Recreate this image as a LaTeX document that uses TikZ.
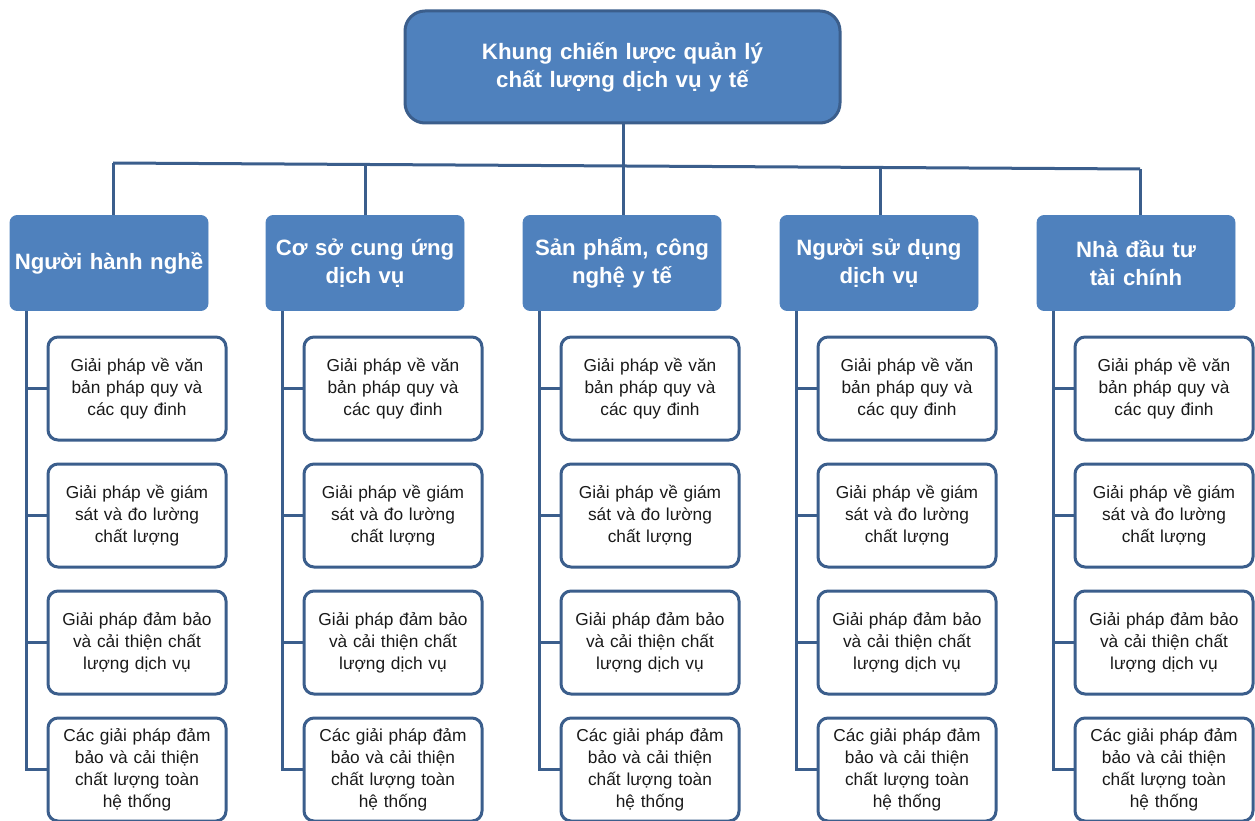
\documentclass[tikz,border=0pt]{standalone}
\usepackage{fontspec}
\setmainfont{Liberation Sans}
\definecolor{boxblue}{HTML}{4F81BD}
\definecolor{lineblue}{HTML}{3B5E8C}
\definecolor{txt}{HTML}{1A1A1A}
\tikzset{
  topbox/.style={draw=lineblue, line width=3pt, fill=boxblue, rounded corners=20pt,
    minimum width=435pt, minimum height=112pt, text width=420pt, align=center,
    text=white, font=\fontsize{22.3}{28}\selectfont\bfseries, inner sep=0pt},
  catbox/.style={draw=boxblue, line width=0.8pt, fill=boxblue, rounded corners=7pt,
    minimum width=198pt, minimum height=95pt, text width=196pt, align=center,
    text=white, font=\fontsize{22.2}{28}\selectfont\bfseries, inner sep=0pt},
  itembox/.style={draw=lineblue, line width=3pt, fill=white, rounded corners=10pt,
    minimum width=178pt, minimum height=103pt, text width=172pt, align=center,
    text=txt, font=\fontsize{17.3}{22}\selectfont, inner sep=0pt},
  conn/.style={draw=lineblue, line width=3pt},
}
\begin{document}
\begin{tikzpicture}[x=1pt,y=-1pt]
\useasboundingbox (0,0) rectangle (1255,821);
\node[topbox] (top) at (622.5,67) {Khung chiến lược quản lý\\chất lượng dịch vụ y tế};
% bus
\coordinate (bL) at (113,163);
\coordinate (bR) at (1140,169);
\coordinate (b1) at (113,163);
\coordinate (b2) at (365,164.47);
\coordinate (b3) at (623,165.98);
\coordinate (b4) at (880,167.48);
\coordinate (b5) at (1140,169);
\draw[conn] (bL) -- (bR);
\draw[conn] (top.south -| b3) -- (b3);
% categories
\foreach \i/\lx/\txt in {1/10/{Người hành nghề}, 2/266/{Cơ sở cung ứng\\dịch vụ}, 3/523/{Sản phẩm, công\\nghệ y tế}, 4/780/{Người sử dụng\\dịch vụ}, 5/1037/{Nhà đầu tư\\tài chính}}{
  \node[catbox] (c\i) at (\lx+99,263) {\txt};
  \draw[conn] (b\i) -- (b\i |- c\i.north);
  \coordinate (s\i) at (\lx+16,309);
  \node[itembox] (i\i a) at (\lx+127,388.5) {Giải pháp về văn\\bản pháp quy và\\các quy đinh};
  \node[itembox] (i\i b) at (\lx+127,515.5) {Giải pháp về giám\\sát và đo lường\\chất lượng};
  \node[itembox] (i\i c) at (\lx+127,642.5) {Giải pháp đảm bảo\\và cải thiện chất\\lượng dịch vụ};
  \node[itembox] (i\i d) at (\lx+127,769.5) {Các giải pháp đảm\\bảo và cải thiện\\chất lượng toàn\\hệ thống};
  \draw[conn] (s\i |- c\i.south) -- (s\i |- i\i d.west) -- (i\i d.west);
  \draw[conn] (s\i |- i\i a.west) -- (i\i a.west);
  \draw[conn] (s\i |- i\i b.west) -- (i\i b.west);
  \draw[conn] (s\i |- i\i c.west) -- (i\i c.west);
}
\end{tikzpicture}
\end{document}
